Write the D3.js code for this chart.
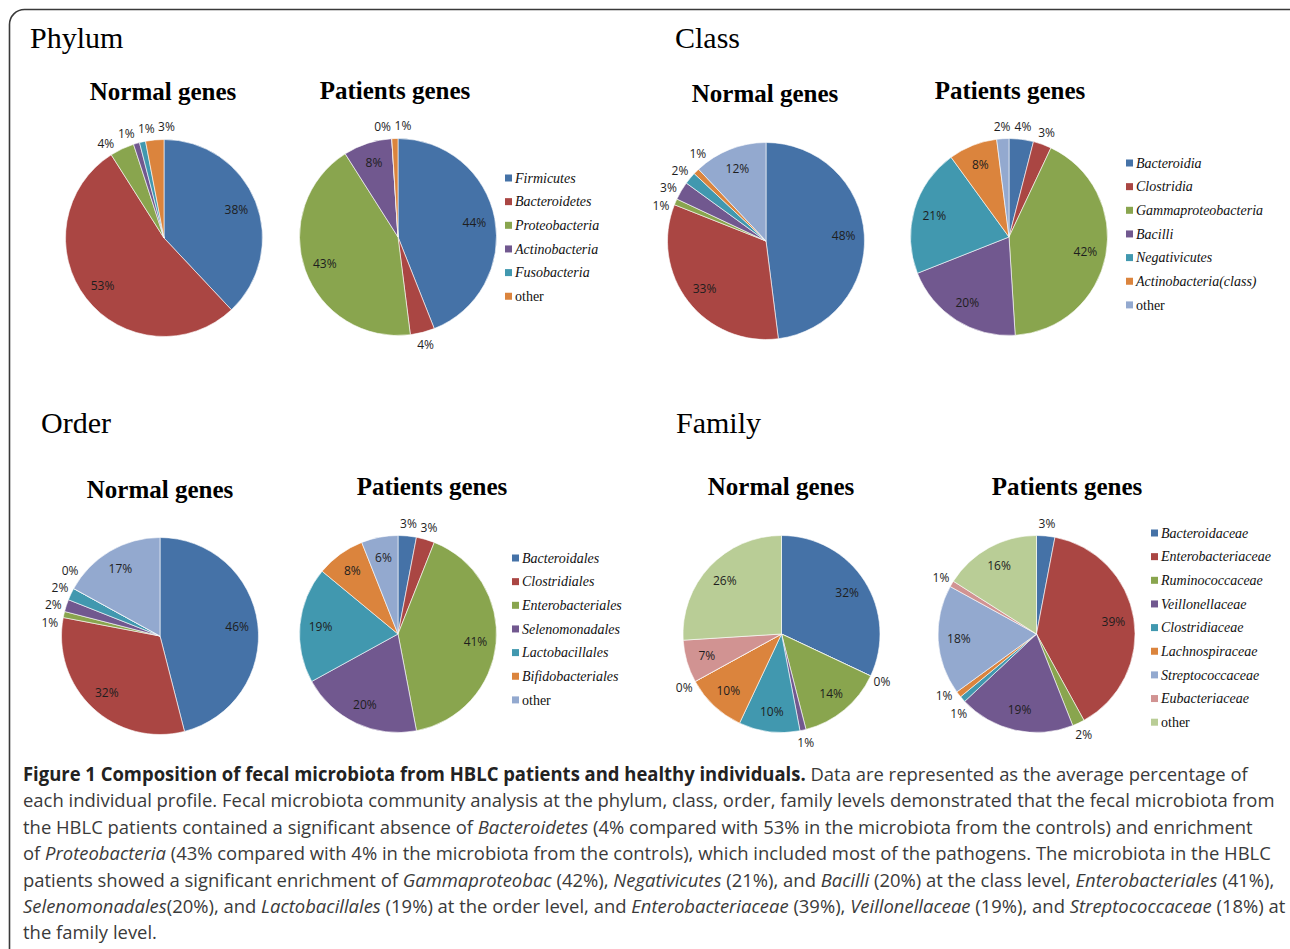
<!DOCTYPE html>
<html>
<head>
<meta charset="utf-8">
<script src="https://cdn.jsdelivr.net/npm/d3@7"></script>
<style>
  html, body { margin: 0; padding: 0; background: #fff; }
  svg { display: block; }
</style>
</head>
<body>
<svg id="fig" width="1290" height="949"></svg>
<script>
// ---- data: percentage composition per taxonomic level ----
const phylumNames = ["Firmicutes", "Bacteroidetes", "Proteobacteria", "Actinobacteria", "Fusobacteria", "other"];
const phylumNormal = [38, 53, 4, 1, 1, 3];
const phylumPatients = [44, 4, 43, 8, 0, 1];

const classNames = ["Bacteroidia", "Clostridia", "Gammaproteobacteria", "Bacilli", "Negativicutes", "Actinobacteria(class)", "other"];
const classNormal = [48, 33, 1, 3, 2, 1, 12];
const classPatients = [4, 3, 42, 20, 21, 8, 2];

const orderNames = ["Bacteroidales", "Clostridiales", "Enterobacteriales", "Selenomonadales", "Lactobacillales", "Bifidobacteriales", "other"];
const orderNormal = [46, 32, 1, 2, 2, 0, 17];
const orderPatients = [3, 3, 41, 20, 19, 8, 6];

const familyNames = ["Bacteroidaceae", "Enterobacteriaceae", "Ruminococcaceae", "Veillonellaceae", "Clostridiaceae", "Lachnospiraceae", "Streptococcaceae", "Eubacteriaceae", "other"];
const familyNormal = [32, 0, 14, 1, 10, 10, 0, 7, 26];
const familyPatients = [3, 39, 2, 19, 1, 1, 18, 1, 16];

const groupTitles = ["Normal genes", "Patients genes"];

// ---- styling ----
const palette = ["#4572A7", "#AA4643", "#89A54E", "#71588F", "#4198AF", "#DB843D", "#93A9CF", "#D19392", "#B9CD96"];
const R = 98.5;
const R_OUT = R + 12.5;

const panels = [
  { title: "Phylum", tx: 30, ty: 48, names: phylumNames, series: [phylumNormal, phylumPatients],
    pies: [{ cx: 164, cy: 238, hx: 163, hy: 100 }, { cx: 398, cy: 237, hx: 395, hy: 99 }],
    legend: { x: 505, y: 178 } },
  { title: "Class", tx: 675, ty: 48, names: classNames, series: [classNormal, classPatients],
    pies: [{ cx: 766, cy: 241, hx: 765, hy: 102 }, { cx: 1009, cy: 237, hx: 1010, hy: 99 }],
    legend: { x: 1126, y: 163 } },
  { title: "Order", tx: 41, ty: 433, names: orderNames, series: [orderNormal, orderPatients],
    pies: [{ cx: 160, cy: 636, hx: 160, hy: 498 }, { cx: 398, cy: 634, hx: 432, hy: 495 }],
    legend: { x: 512, y: 558 } },
  { title: "Family", tx: 676, ty: 433, names: familyNames, series: [familyNormal, familyPatients],
    pies: [{ cx: 781.5, cy: 634, hx: 781, hy: 495 }, { cx: 1036.5, cy: 634, hx: 1067, hy: 495 }],
    legend: { x: 1151, y: 533 } }
];

const svg = d3.select("#fig");

// outer frame with rounded corners (runs off the right and bottom edges)
svg.append("rect")
  .attr("x", 9.5).attr("y", 9.5)
  .attr("width", 1296).attr("height", 1000)
  .attr("rx", 15).attr("ry", 15)
  .attr("fill", "none").attr("stroke", "#3a3a3a").attr("stroke-width", 1.6);

const pie = d3.pie().sort(null).value(d => d.value);
const arc = d3.arc().innerRadius(0).outerRadius(R);
const inLabel = d3.arc().innerRadius(R * 0.79).outerRadius(R * 0.79);

// outside labels sit on a circle; overlapping neighbours slide apart along it
function placeOutside(labels) {
  labels.sort((a, b) => a.angle - b.angle);
  const pos = l => { l.x = R_OUT * Math.sin(l.angle); l.y = -R_OUT * Math.cos(l.angle); };
  labels.forEach(pos);
  const hit = (a, b) => {
    const w = (a.w + b.w) / 2 + 3, h = 17;
    return Math.abs(a.x - b.x) < w && Math.abs(a.y - b.y) < h;
  };
  for (let it = 0; it < 3000; it++) {
    let moved = false;
    for (let i = 0; i < labels.length; i++) {
      for (let j = i + 1; j < labels.length; j++) {
        if (hit(labels[i], labels[j])) {
          labels[i].angle -= 0.004;
          labels[j].angle += 0.004;
          pos(labels[i]); pos(labels[j]);
          moved = true;
        }
      }
    }
    if (!moved) break;
  }
}

panels.forEach(p => {
  svg.append("text")
    .attr("x", p.tx).attr("y", p.ty)
    .attr("font-family", "'Liberation Serif', 'Times New Roman', serif")
    .attr("font-size", 30)
    .attr("fill", "#000")
    .text(p.title);

  p.pies.forEach((pp, k) => {
    const rows = p.names.map((n, i) => ({ name: n, value: p.series[k][i], idx: i }));
    const arcs = pie(rows);

    svg.append("text")
      .attr("x", pp.hx).attr("y", pp.hy)
      .attr("text-anchor", "middle")
      .attr("font-family", "'Liberation Serif', 'Times New Roman', serif")
      .attr("font-weight", "bold")
      .attr("font-size", 25)
      .attr("fill", "#000")
      .text(groupTitles[k]);

    const g = svg.append("g").attr("transform", `translate(${pp.cx},${pp.cy})`);
    g.selectAll("path.slice")
      .data(arcs)
      .join("path")
      .attr("class", "slice")
      .attr("d", arc)
      .attr("fill", d => palette[d.data.idx])
      .attr("stroke", "#ffffff")
      .attr("stroke-opacity", 0.75)
      .attr("stroke-width", 0.8)
      .attr("stroke-linejoin", "round");

    const labels = arcs.map(d => {
      const text = d.data.value + "%";
      const inside = d.data.value >= 5;
      const l = { text, inside, angle: (d.startAngle + d.endAngle) / 2, w: text.length * 8.5 };
      if (inside) { const c = inLabel.centroid(d); l.x = c[0]; l.y = c[1]; }
      return l;
    });
    placeOutside(labels.filter(l => !l.inside));

    g.selectAll("text.pct")
      .data(labels)
      .join("text")
      .attr("class", "pct")
      .attr("x", d => d.x)
      .attr("y", d => d.y)
      .attr("dy", "0.36em")
      .attr("text-anchor", "middle")
      .attr("font-family", "'Open Sans', 'DejaVu Sans', sans-serif")
      .attr("font-size", 12)
      .attr("fill", "#1e1e1e")
      .text(d => d.text);
  });

  // legend
  const lg = svg.append("g").attr("transform", `translate(${p.legend.x},${p.legend.y})`);
  const step = 23.65;
  const item = lg.selectAll("g.item")
    .data(p.names)
    .join("g")
    .attr("class", "item")
    .attr("transform", (d, i) => `translate(0,${i * step})`);
  item.append("rect")
    .attr("x", 0).attr("y", -3.5)
    .attr("width", 7).attr("height", 7)
    .attr("fill", (d, i) => palette[i]);
  item.append("text")
    .attr("x", 10).attr("y", 4.8)
    .attr("font-family", "'Liberation Serif', 'Times New Roman', serif")
    .attr("font-style", d => d === "other" ? "normal" : "italic")
    .attr("font-size", 14)
    .attr("fill", "#111")
    .text(d => d);
});

// ---- figure caption ----
const captionLines = [
  [["b", "Figure 1 Composition of fecal microbiota from HBLC patients and healthy individuals."], ["n", " Data are represented as the average percentage of"]],
  [["n", "each individual profile. Fecal microbiota community analysis at the phylum, class, order, family levels demonstrated that the fecal microbiota from"]],
  [["n", "the HBLC patients contained a significant absence of "], ["i", "Bacteroidetes"], ["n", " (4% compared with 53% in the microbiota from the controls) and enrichment"]],
  [["n", "of "], ["i", "Proteobacteria"], ["n", " (43% compared with 4% in the microbiota from the controls), which included most of the pathogens. The microbiota in the HBLC"]],
  [["n", "patients showed a significant enrichment of "], ["i", "Gammaproteobac"], ["n", " (42%), "], ["i", "Negativicutes"], ["n", " (21%), and "], ["i", "Bacilli"], ["n", " (20%) at the class level, "], ["i", "Enterobacteriales"], ["n", " (41%),"]],
  [["i", "Selenomonadales"], ["n", "(20%), and "], ["i", "Lactobacillales"], ["n", " (19%) at the order level, and "], ["i", "Enterobacteriaceae"], ["n", " (39%), "], ["i", "Veillonellaceae"], ["n", " (19%), and "], ["i", "Streptococcaceae"], ["n", " (18%) at"]],
  [["n", "the family level."]]
];

const cap = svg.append("g");
const capText = cap.selectAll("text")
  .data(captionLines)
  .join("text")
  .attr("x", 0)
  .attr("y", (d, i) => 781 + i * 26.4)
  .attr("font-family", "'Open Sans', 'Noto Sans', sans-serif")
  .attr("font-size", 19)
  .attr("fill", "#3a3a3a");
capText.each(function(parts) {
  const t = d3.select(this);
  parts.forEach(([kind, str]) => {
    t.append("tspan")
      .attr("font-weight", kind === "b" ? "bold" : null)
      .attr("font-style", kind === "i" ? "italic" : null)
      .attr("fill", kind === "b" ? "#222" : null)
      .text(str);
  });
});
// condense the caption horizontally so the second line spans the text block
const capLeft = 23, capRight = 1275;
const refWidth = capText.nodes()[1].getComputedTextLength();
const kx = (capRight - capLeft) / refWidth;
cap.attr("transform", `translate(${capLeft},0) scale(${kx},1)`);
</script>
</body>
</html>
